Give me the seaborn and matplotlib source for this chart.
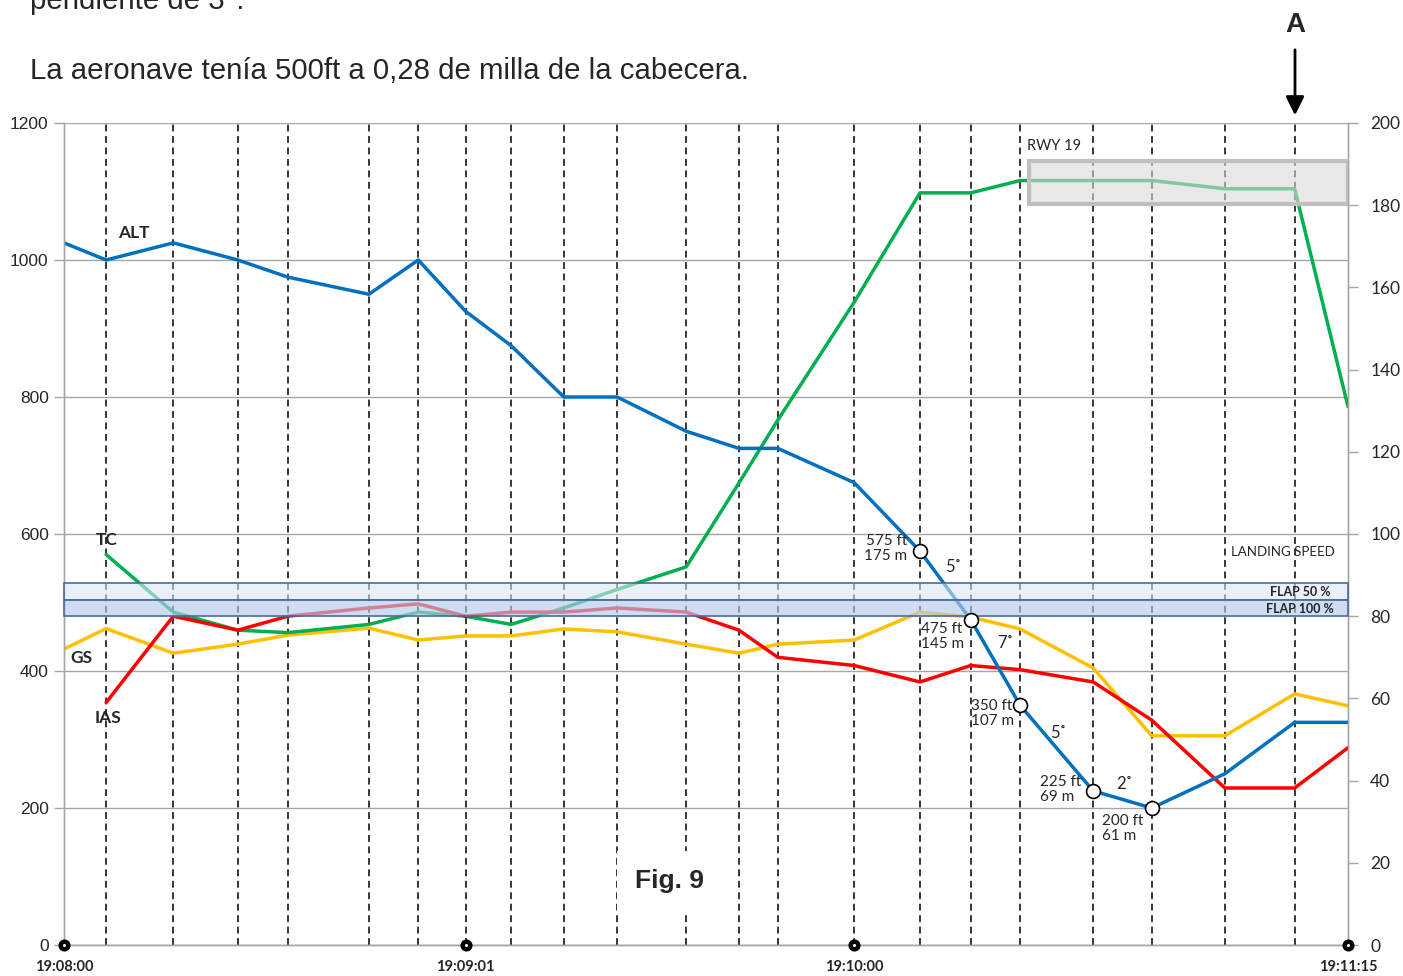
import numpy as np
import pandas as pd
import matplotlib
matplotlib.use('Agg')  # headless
import matplotlib.pyplot as plt
import matplotlib.transforms as mtransforms
from matplotlib.patches import Rectangle
import seaborn as sns

# seconds after 19:08:00 for each sample (one dashed line per sample)
t_sec = [0, 6.4, 16.6, 26.4, 34.0, 46.3, 53.8, 61.0, 67.9, 75.9, 84.0, 94.5,
         102.5, 108.4, 120, 130, 137.7, 145.2, 156.3, 165.2, 176.3, 186.9, 195]
# altitude (ft, left axis)
alt_ft = [1025, 1000, 1025, 1000, 975, 950, 1000, 925, 875, 800, 800, 750,
          725, 725, 675, 575, 475, 350, 225, 200, 250, 325, 325]
# speeds / course (right axis)
tc = [np.nan, 95, 81, 76.6, 76, 78, 81, 80, 78, 82, 86.5, 92,
      112.4, 127.7, 156.4, 183, 183, 186, 186, 186, 184, 184, 131]
ias = [np.nan, 59, 80, 76.6, 80, 82, 83, 80, 81, 81, 82, 81,
       76.6, 70, 68, 64, 68, 67, 64, 54.7, 38.2, 38.2, 48]
gs = [72, 77, 71, 73.2, 75.4, 77.1, 74.2, 75.2, 75.2, 76.9, 76.2, 73.2,
      71, 73.2, 74.2, 81, 79.8, 76.9, 67.4, 50.9, 50.9, 61.1, 58.2]

time_ticks = [0, 61, 120, 195]
time_labels = ['19:08:00', '19:09:01', '19:10:00', '19:11:15']
left_ticks = [0, 200, 400, 600, 800, 1000, 1200]
right_ticks = [0, 20, 40, 60, 80, 100, 120, 140, 160, 180, 200]

# marked altitude points (indices into the series above)
mark_idx = [15, 16, 17, 18, 19]
mark_labels = ['575 ft\n175 m', '475 ft\n145 m', '350 ft\n107 m', '225 ft\n69 m', '200 ft\n61 m']
slope_labels = ['5˚', '7˚', '5˚', '2˚']

flap50 = (84, 88)
flap100 = (80, 84)
rwy_box = (146.5, 180.3, 195, 190.7)  # t0, y0, t1, y1 (right axis)

df = pd.DataFrame({'t': t_sec, 'alt': alt_ft, 'tc': tc, 'ias': ias, 'gs': gs})

sns.set_style('white')
plt.rcParams['font.family'] = ['Lato', 'DejaVu Sans']

fig = plt.figure(figsize=(14.03, 9.76), dpi=100)
ax2 = fig.add_axes([64 / 1403, 1 - 945 / 976, 1284 / 1403, 822 / 976])
ax = ax2.twinx()
ax.yaxis.tick_left()
ax2.yaxis.tick_right()
ax.set_zorder(ax2.get_zorder() + 1)
ax.patch.set_visible(False)
ax2.patch.set_visible(True)
ax2.patch.set_facecolor('white')

ax2.set_xlim(0, 195)
ax2.set_ylim(0, 200)
ax.set_ylim(0, 1200)

grey = '#a6a6a6'
# horizontal grid from left axis, drawn under the lines
trans = mtransforms.blended_transform_factory(ax2.transAxes, ax.transData)
for v in left_ticks:
    ax2.plot([0, 1], [v, v], transform=trans, color=grey, lw=1, zorder=0)
# vertical dashed sample lines
for t in t_sec[1:-1]:
    ax2.axvline(t, color='black', lw=1.1, linestyle=(0, (4.5, 3)), zorder=0.5)

sns.lineplot(data=df, x='t', y='gs', ax=ax2, color='#ffc000', lw=2.5, zorder=2)
sns.lineplot(data=df, x='t', y='tc', ax=ax2, color='#00b050', lw=2.5, zorder=3)
sns.lineplot(data=df, x='t', y='ias', ax=ax2, color='#ff0000', lw=2.5, zorder=4)
sns.lineplot(data=df, x='t', y='alt', ax=ax, color='#0070c0', lw=2.5, zorder=2)

# semi transparent boxes over the lines
for (y0, y1), fc, al in [(flap50, '#dce6f4', 0.6), (flap100, '#b4cbea', 0.65)]:
    ax.add_patch(Rectangle((0, y0), 195, y1 - y0, transform=ax2.transData,
                           facecolor=fc, alpha=al, edgecolor='none', zorder=5, clip_on=False))
    ax.add_patch(Rectangle((0, y0), 195, y1 - y0, transform=ax2.transData,
                           facecolor='none', edgecolor='#4a6b9a', lw=1.2, zorder=5, clip_on=False))
ax.add_patch(Rectangle((rwy_box[0], rwy_box[1]), rwy_box[2] - rwy_box[0], rwy_box[3] - rwy_box[1],
                       transform=ax2.transData, facecolor='#d9d9d9', alpha=0.6,
                       edgecolor='none', zorder=5))
ax.add_patch(Rectangle((rwy_box[0], rwy_box[1]), rwy_box[2] - rwy_box[0], rwy_box[3] - rwy_box[1],
                       transform=ax2.transData, facecolor='none',
                       edgecolor='#bfbfbf', lw=3, zorder=5))

# marked altitude points
mt = [t_sec[i] for i in mark_idx]
ma = [alt_ft[i] for i in mark_idx]
ax.plot(mt, ma, 'o', ms=10, mfc='white', mec='black', mew=1.2, zorder=6)
offsets = [(-9, 2, 'right'), (-36, -12, 'left'), (-35, -6, 'left'), (-38, 1, 'left'), (-36, -15, 'left')]
for (dx, dy, ha), lab, x, y in zip(offsets, mark_labels, mt, ma):
    ax.annotate(lab, (x, y), xytext=(dx, dy), textcoords='offset points',
                ha=ha, va='center', fontsize=11, linespacing=1.1, zorder=7)
slope_off = [(6, 13), (7, 14), (1, 11), (1, 11)]
for k, lab in enumerate(slope_labels):
    xm = (mt[k] + mt[k + 1]) / 2
    ym = (ma[k] + ma[k + 1]) / 2
    ax.annotate(lab, (xm, ym), xytext=slope_off[k], textcoords='offset points',
                ha='center', va='center', fontsize=12, zorder=7)

# series names
ax.text(10.6, 1040, 'ALT', fontsize=12.5, fontweight='bold', ha='center', va='center')
ax2.text(6.4, 98.5, 'TC', fontsize=12.5, fontweight='bold', ha='center', va='center')
ax2.text(2.6, 69.8, 'GS', fontsize=12.5, fontweight='bold', ha='center', va='center')
ax2.text(6.7, 55.2, 'IAS', fontsize=12.5, fontweight='bold', ha='center', va='center')
ax2.text(146.2, 194.4, 'RWY 19', fontsize=10.5, ha='left', va='center')
ax2.text(177.3, 95.6, 'LANDING SPEED', fontsize=9.5, ha='left', va='center')
ax.text(192.3, 85.8, 'FLAP 50 %', transform=ax2.transData, fontsize=9, fontweight='bold',
        ha='right', va='center', zorder=7)
ax.text(192.8, 81.8, 'FLAP 100 %', transform=ax2.transData, fontsize=9, fontweight='bold',
        ha='right', va='center', zorder=7)
ax.text(92, 93, 'Fig. 9', fontsize=19, fontweight='bold', family='Liberation Sans',
        ha='center', va='center', zorder=7,
        bbox=dict(facecolor='white', edgecolor='none', boxstyle='square,pad=0.7'))

# axes styling
ax.set_xlabel('')
ax.set_ylabel('')
ax2.set_xlabel('')
ax2.set_ylabel('')
ax.set_yticks(left_ticks)
ax.set_yticklabels([str(v) for v in left_ticks], fontsize=12.5, family='Liberation Sans')
ax.tick_params(axis='y', direction='out', length=7, color=grey, width=1, pad=4, left=True)
ax2.set_yticks(right_ticks)
ax2.set_yticklabels([str(v) for v in right_ticks], fontsize=12.5)
ax2.tick_params(axis='y', direction='out', length=7, color=grey, width=1, pad=9, right=True)
# the visible x axis belongs to ax2 (twinx hides the twin's x axis)
ax2.set_xticks(time_ticks)
ax2.set_xticklabels(time_labels, fontsize=10.5, fontweight='bold')
ax2.tick_params(axis='x', length=0, pad=11)
for a in (ax, ax2):
    for s in a.spines.values():
        s.set_color(grey)
        s.set_linewidth(1)
    a.spines['top'].set_visible(False)
ax.plot(time_ticks, [0] * len(time_ticks), 'o', ms=5.5, mfc='white', mec='black', mew=3.2,
        clip_on=False, zorder=8)

# heading text above the chart
fig.text(30 / 1403, 1 - 9 / 976, 'pendiente de 3°.', fontsize=21.2, family='Liberation Sans',
         ha='left', va='baseline')
fig.text(30 / 1403, 1 - 79 / 976, 'La aeronave tenía 500ft a 0,28 de milla de la cabecera.',
         fontsize=21.2, family='Liberation Sans', ha='left', va='baseline')
fig.text(1295 / 1403, 1 - 25 / 976, 'A', fontsize=20, fontweight='bold', family='Liberation Sans',
         ha='center', va='center')
ax.annotate('', xy=(1295, 976 - 118), xytext=(1295, 976 - 47), xycoords='figure pixels',
            textcoords='figure pixels',
            arrowprops=dict(arrowstyle='-|>', color='black', lw=2, mutation_scale=28))

fig.savefig('out.png', dpi=100)
plt.close(fig)
